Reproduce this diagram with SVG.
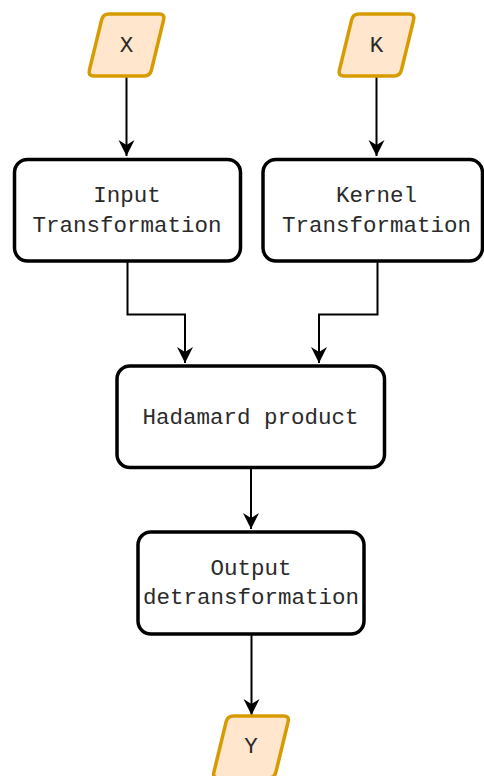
<svg xmlns="http://www.w3.org/2000/svg" width="484" height="776" viewBox="0 0 484 776">
  <style>
    .box { fill: #ffffff; stroke: #000000; stroke-width: 3.5; }
    .io { fill: #ffe6cc; stroke: #d79b00; stroke-width: 3.5; stroke-linejoin: round; }
    .label { font-family: "Liberation Mono", "Courier New", monospace; font-size: 22.5px; fill: #2a2a2a; text-anchor: middle; }
    .edge { fill: none; stroke: #000000; stroke-width: 2; }
  </style>
  <defs>
    <!-- rounded parallelogram used for data in/out, centred on the origin -->
    <path id="para" d="M -17.5,-31 H 32.5 Q 38.5,-31 37.1,-25.2 L 24.9,25.2 Q 23.5,31 17.5,31 H -32.5 Q -38.5,31 -37.1,25.2 L -24.9,-25.2 Q -23.5,-31 -17.5,-31 Z"/>
    <marker id="arrow" markerUnits="userSpaceOnUse" viewBox="-17 -9 18 18" markerWidth="18" markerHeight="18" refX="0" refY="0" orient="auto">
      <path d="M -16,-8 L 0,0 L -16,8 L -11,0 Z" fill="#000000"/>
    </marker>
  </defs>

  <g id="connectors">
    <path class="edge" d="M 126.5,77 V 156" marker-end="url(#arrow)"/>
    <path class="edge" d="M 376.5,77 V 156" marker-end="url(#arrow)"/>
    <path class="edge" d="M 127.5,262 V 314.5 H 185 V 363" marker-end="url(#arrow)"/>
    <path class="edge" d="M 377.5,262 V 314.5 H 319 V 363" marker-end="url(#arrow)"/>
    <path class="edge" d="M 251,469 V 529" marker-end="url(#arrow)"/>
    <path class="edge" d="M 251.5,635 V 715" marker-end="url(#arrow)"/>
  </g>

  <g id="node-x">
    <use href="#para" class="io" transform="translate(126.5,45)"/>
    <text class="label" x="126.5" y="52">X</text>
  </g>

  <g id="node-k">
    <use href="#para" class="io" transform="translate(376.5,45)"/>
    <text class="label" x="376.5" y="52">K</text>
  </g>

  <g id="node-input-transform">
    <rect class="box" x="14.5" y="159.5" width="226" height="101.5" rx="13"/>
    <text class="label" x="127" y="202">Input</text>
    <text class="label" x="127" y="231.5">Transformation</text>
  </g>

  <g id="node-kernel-transform">
    <rect class="box" x="263" y="159.5" width="219.5" height="101.5" rx="13"/>
    <text class="label" x="376.5" y="202">Kernel</text>
    <text class="label" x="376.5" y="231.5">Transformation</text>
  </g>

  <g id="node-hadamard">
    <rect class="box" x="117" y="366" width="267.5" height="101.5" rx="13"/>
    <text class="label" x="250.5" y="423.5">Hadamard product</text>
  </g>

  <g id="node-output-detransform">
    <rect class="box" x="138" y="532" width="226" height="102" rx="13"/>
    <text class="label" x="251" y="574.5">Output</text>
    <text class="label" x="251" y="603.5">detransformation</text>
  </g>

  <g id="node-y">
    <use href="#para" class="io" transform="translate(251,747)"/>
    <text class="label" x="251" y="753">Y</text>
  </g>
</svg>
